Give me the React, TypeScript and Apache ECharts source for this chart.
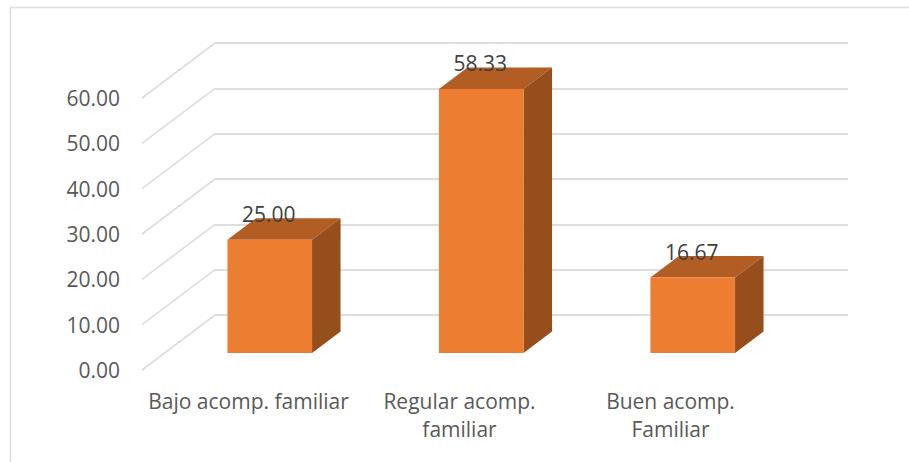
import React, { useEffect, useRef } from "react";
import * as echarts from "echarts";

const categories = ["Bajo acomp. familiar", "Regular acomp.\nfamiliar", "Buen acomp.\nFamiliar"];
const values = [25.0, 58.33, 16.67];
const gridTicks = [0, 10, 20, 30, 40, 50, 60];

const FONT = "'Open Sans', sans-serif";
const FRONT = "#ED7D31";
const TOP = "#B15D24";
const SIDE = "#964F1C";
const LINE = "#DDDDDD";

export default function App() {
  const ref = useRef<HTMLDivElement>(null);
  useEffect(() => {
    const chart = echarts.init(ref.current!, undefined, { renderer: "svg" });
    const valueAxisBase = { type: "value", min: 0, max: 60, interval: 10 };
    const hiddenCat = {
      type: "category",
      data: categories,
      axisLine: { show: false },
      axisTick: { show: false },
      axisLabel: { show: false },
    };
    chart.setOption({
      animation: false,
      backgroundColor: "#ffffff",
      graphic: [
        {
          type: "rect",
          silent: true,
          shape: { x: 10.5, y: 7.5, width: 1000, height: 1000 },
          style: { fill: "none", stroke: LINE, lineWidth: 1.5 },
        },
      ],
      grid: [
        // front plane: carries the axis labels
        { left: 143, width: 633, top: 98, height: 272 },
        // back wall: carries the gridlines
        { left: 215, width: 633, top: 43, height: 272 },
        // plane in which the bars stand
        { left: 164, width: 634.5, top: 81.4, height: 271.6 },
      ],
      xAxis: [
        {
          type: "category",
          gridIndex: 0,
          data: categories,
          axisLine: { show: false },
          axisTick: { show: false },
          axisLabel: {
            interval: 0,
            margin: 17,
            color: "#595959",
            fontFamily: FONT,
            fontSize: 21,
            lineHeight: 28,
            verticalAlign: "top",
          },
        },
        { ...hiddenCat, gridIndex: 1 },
        { ...hiddenCat, gridIndex: 2 },
      ],
      yAxis: [
        {
          ...valueAxisBase,
          gridIndex: 0,
          axisLine: { show: false },
          axisTick: { show: false },
          splitLine: { show: false },
          axisLabel: {
            margin: 23,
            color: "#595959",
            fontFamily: FONT,
            fontSize: 21,
            formatter: (v: number) => v.toFixed(2),
          },
        },
        {
          ...valueAxisBase,
          gridIndex: 1,
          axisLine: { show: false },
          axisTick: { show: false },
          axisLabel: { show: false },
          splitLine: { show: true, lineStyle: { color: LINE, width: 2 } },
        },
        {
          ...valueAxisBase,
          gridIndex: 2,
          axisLine: { show: false },
          axisTick: { show: false },
          axisLabel: { show: false },
          splitLine: { show: false },
        },
      ],
      series: [
        {
          type: "custom",
          name: "slants",
          xAxisIndex: 1,
          yAxisIndex: 1,
          silent: true,
          z: 1,
          data: gridTicks.map((v) => [0, v]),
          renderItem: (_p: any, api: any) => {
            const c = api.coord([api.value(0), api.value(1)]);
            const band = api.size([1, 0])[0];
            const x = c[0] - band / 2;
            return {
              type: "line",
              shape: { x1: x, y1: c[1], x2: x - 73, y2: c[1] + 55 },
              style: { stroke: LINE, lineWidth: 1.6 },
            };
          },
        },
        {
          type: "custom",
          name: "Acompañamiento familiar",
          xAxisIndex: 2,
          yAxisIndex: 2,
          z: 5,
          data: values.map((v, i) => [i, v]),
          renderItem: (_p: any, api: any) => {
            const value = api.value(1);
            const top = api.coord([api.value(0), value]);
            const base = api.coord([api.value(0), 0]);
            const w = api.size([1, 0])[0] * 0.4;
            const l = top[0] - w / 2;
            const r = top[0] + w / 2;
            const dx = 28.5;
            const dy = 21.5;
            return {
              type: "group",
              children: [
                {
                  type: "polygon",
                  shape: { points: [[l, top[1]], [l + dx, top[1] - dy], [r + dx, top[1] - dy], [r, top[1]]] },
                  style: { fill: TOP },
                },
                {
                  type: "polygon",
                  shape: { points: [[r, top[1]], [r + dx, top[1] - dy], [r + dx, base[1] - dy], [r, base[1]]] },
                  style: { fill: SIDE },
                },
                {
                  type: "rect",
                  shape: { x: l, y: top[1], width: w, height: base[1] - top[1] },
                  style: { fill: FRONT },
                },
                {
                  type: "text",
                  z2: 10,
                  style: {
                    text: value.toFixed(2),
                    x: top[0] - 1,
                    y: top[1] - 26,
                    align: "center",
                    verticalAlign: "middle",
                    fill: "#404040",
                    font: `21px ${FONT}`,
                  },
                },
              ],
            };
          },
        },
      ],
    });
    return () => chart.dispose();
  }, []);
  return <div ref={ref} style={{ position: "fixed", left: 0, top: 0, width: 909, height: 462 }} />;
}
